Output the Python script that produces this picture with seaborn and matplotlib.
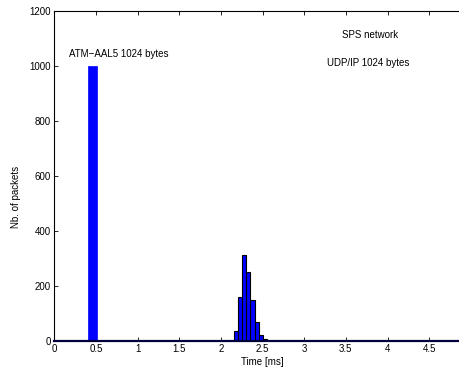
"""Packet latency histogram, SPS network (ATM-AAL5 vs UDP/IP)."""

import matplotlib

matplotlib.use("Agg")

import matplotlib.pyplot as plt
import seaborn as sns

# ATM-AAL5 1024 bytes: all packets in one bin
atm_time = [0.455]
atm_count = [1000]

# UDP/IP 1024 bytes: bin centres [ms] and counts
udp_time = [2.18, 2.23, 2.28, 2.33, 2.38, 2.43, 2.48, 2.53]
udp_count = [36, 160, 313, 251, 150, 70, 22, 6]

x_ticks = [0, 0.5, 1, 1.5, 2, 2.5, 3, 3.5, 4, 4.5]
y_ticks = [0, 200, 400, 600, 800, 1000, 1200]

sns.set_theme(style="ticks")
plt.rcParams["font.family"] = ["Liberation Sans", "DejaVu Sans"]
plt.rcParams.update(
    {
        "font.size": 7,
        "xtick.labelsize": 7,
        "ytick.labelsize": 7,
        "axes.labelsize": 7,
        "text.color": "black",
        "axes.labelcolor": "black",
        "xtick.color": "black",
        "ytick.color": "black",
    }
)

fig = plt.figure(figsize=(4.59, 3.67), dpi=100)
ax = fig.add_axes([0.1183, 0.0708, 0.8817, 0.8992])

sns.histplot(
    x=atm_time, weights=atm_count, binwidth=0.11, binrange=(0.40, 0.51),
    color="#0000ff", edgecolor="#0000ff", linewidth=0.5, alpha=1, ax=ax,
)
sns.histplot(
    x=udp_time, weights=udp_count, binwidth=0.05, binrange=(2.155, 2.555),
    color="#0000ff", edgecolor="black", linewidth=0.8, alpha=1, ax=ax,
)

ax.set_xlim(0, 4.858)
ax.set_ylim(0, 1200)
ax.set_xticks(x_ticks)
ax.set_xticklabels([f"{t:g}" for t in x_ticks])
ax.set_yticks(y_ticks)

ax.spines["right"].set_visible(False)
for side in ("left", "top"):
    ax.spines[side].set_linewidth(0.8)
    ax.spines[side].set_color("black")
ax.spines["bottom"].set_linewidth(1.6)
ax.spines["bottom"].set_color("#00003a")
ax.tick_params(axis="both", direction="in", length=3, width=0.6, colors="black")
ax.tick_params(axis="x", top=True, labeltop=False, pad=2.5)
ax.tick_params(axis="y", right=False, pad=2.5)

ax.set_xlabel("Time [ms]")
ax.set_ylabel("Nb. of packets")
ax.xaxis.set_label_coords(0.5146, -0.047)
ax.yaxis.set_label_coords(-0.082, 0.436)

ax.text(0.176, 1044, "ATM\u2212AAL5 1024 bytes", va="center", ha="left")
ax.text(3.45, 1113, "SPS network", va="center", ha="left")
ax.text(3.27, 1011, "UDP/IP 1024 bytes", va="center", ha="left")

fig.savefig("out.png", dpi=100)
plt.close(fig)
